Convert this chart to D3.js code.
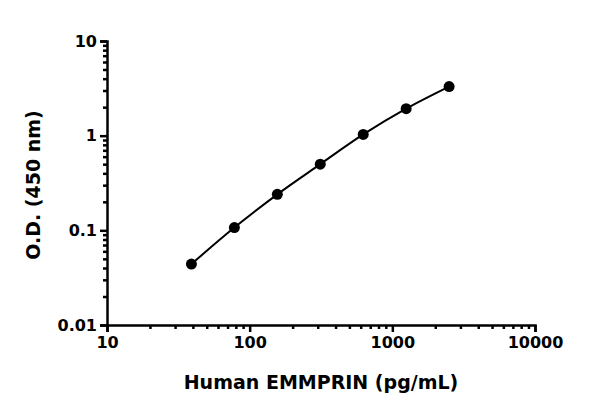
<!DOCTYPE html>
<html><head><meta charset="utf-8">
<script src="https://cdn.jsdelivr.net/npm/d3@7"></script>
<style>body{margin:0;background:#fff}text{font-family:"DejaVu Sans",sans-serif;font-weight:bold}</style>
</head><body><div id="chart"></div>
<script>
var conc = [39.06, 78.125, 156.25, 312.5, 625, 1250, 2500];
var od = [0.044, 0.107, 0.24, 0.50, 1.03, 1.93, 3.3];
var xTicks = [10, 100, 1000, 10000];
var yTicks = [0.01, 0.1, 1, 10];

var svg = d3.select('#chart').append('svg').attr('width', 600).attr('height', 414);
var x = d3.scaleLog().domain([10, 10000]).range([107, 535]);
var y = d3.scaleLog().domain([0.01, 10]).range([325, 41]);

function minor(ext) {
  var out = [];
  for (var d = ext[0]; d < ext[1]; d *= 10)
    for (var k = 2; k <= 9; k++) out.push(d * k);
  return out;
}

svg.append('g').attr('transform', 'translate(0,325)')
  .call(d3.axisBottom(x).tickValues(xTicks).tickFormat(d3.format('d')).tickSize(7).tickPadding(5));
svg.append('g').attr('transform', 'translate(0,325)')
  .call(d3.axisBottom(x).tickValues(minor([10, 10000])).tickFormat('').tickSize(4))
  .select('.domain').remove();
svg.append('g').attr('transform', 'translate(107,0)')
  .call(d3.axisLeft(y).tickValues(yTicks).tickFormat(function (d) { return d >= 1 ? d3.format('d')(d) : String(d); }).tickSize(7).tickPadding(3));
svg.append('g').attr('transform', 'translate(107,0)')
  .call(d3.axisLeft(y).tickValues(minor([0.01, 10])).tickFormat('').tickSize(4))
  .select('.domain').remove();
svg.selectAll('.domain, .tick line').attr('stroke', '#000').attr('stroke-width', 2.5);
svg.selectAll('.tick text').attr('font-size', 16).attr('fill', '#000');

svg.append('text').attr('x', 321).attr('y', 389).attr('text-anchor', 'middle')
  .attr('font-size', 19).text('Human EMMPRIN (pg/mL)');
svg.append('text').attr('transform', 'translate(40,185) rotate(-90)').attr('text-anchor', 'middle')
  .attr('font-size', 19).text('O.D. (450 nm)');

var data = conc.map(function (c, i) { return [c, od[i]]; });
svg.append('path').datum(data).attr('fill', 'none').attr('stroke', '#000').attr('stroke-width', 2)
  .attr('d', d3.line().curve(d3.curveMonotoneX).x(function (d) { return x(d[0]); }).y(function (d) { return y(d[1]); }));
svg.selectAll('circle').data(data).enter().append('circle')
  .attr('cx', function (d) { return x(d[0]); }).attr('cy', function (d) { return y(d[1]); })
  .attr('r', 5.5).attr('fill', '#000');
</script></body></html>
